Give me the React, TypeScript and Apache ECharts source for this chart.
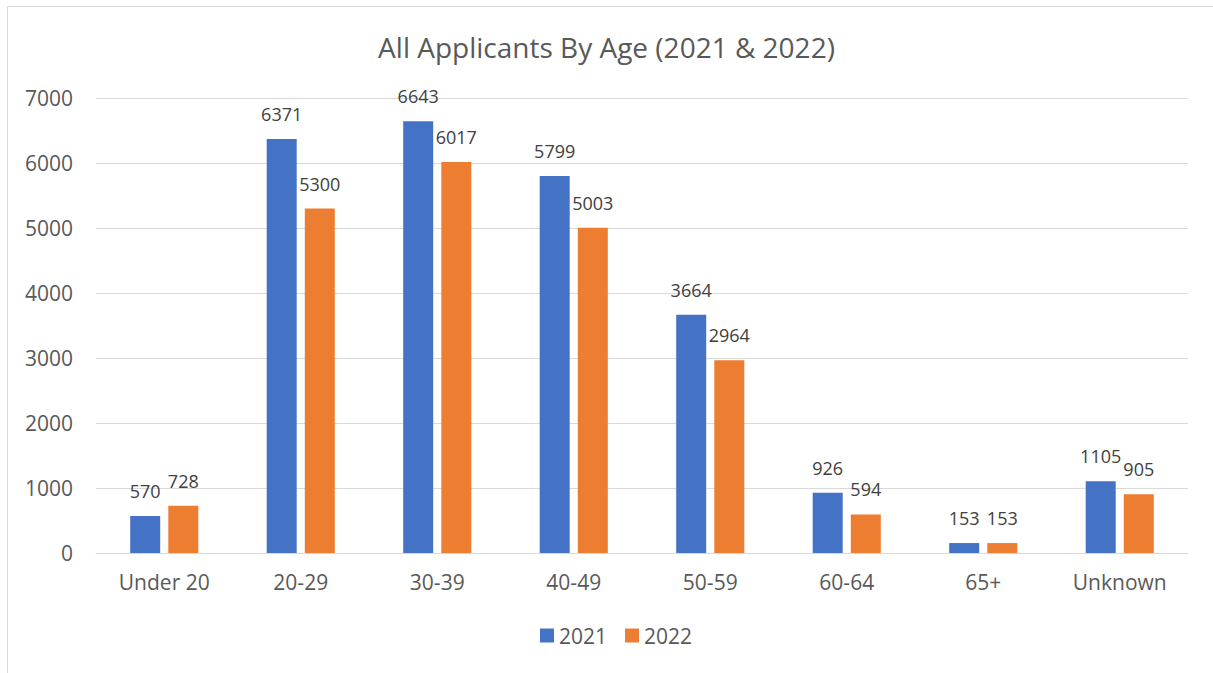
import React, { useEffect, useRef } from "react";
import * as echarts from "echarts";

const categories = ["Under 20", "20-29", "30-39", "40-49", "50-59", "60-64", "65+", "Unknown"];
const values2021 = [570, 6371, 6643, 5799, 3664, 926, 153, 1105];
const values2022 = [728, 5300, 6017, 5003, 2964, 594, 153, 905];
const seriesNames = ["2021", "2022"];
const titleText = "All Applicants By Age (2021 & 2022)";

const FONT = "'Open Sans', 'Liberation Sans', sans-serif";

export default function App() {
  const ref = useRef<HTMLDivElement>(null);
  useEffect(() => {
    document.body.style.margin = "0";
    const chart = echarts.init(ref.current!, null, { renderer: "svg" });
    chart.setOption({
      animation: false,
      backgroundColor: "#ffffff",
      textStyle: { fontFamily: FONT },
      title: {
        text: titleText,
        left: "center",
        top: 28,
        textStyle: { fontFamily: FONT, fontSize: 28, fontWeight: "normal", color: "#595959" },
      },
      legend: {
        data: seriesNames,
        bottom: 22,
        left: 535,
        itemWidth: 14,
        itemHeight: 14,
        itemGap: 18,
        icon: "rect",
        textStyle: { fontFamily: FONT, fontSize: 21, color: "#595959" },
      },
      grid: { left: 96, right: 25, top: 98, bottom: 120, containLabel: false },
      xAxis: {
        type: "category",
        data: categories,
        axisLine: { lineStyle: { color: "#d9d9d9" } },
        axisTick: { show: false },
        axisLabel: { fontFamily: FONT, fontSize: 21, color: "#595959", margin: 18 },
      },
      yAxis: {
        type: "value",
        min: 0,
        max: 7000,
        interval: 1000,
        axisLine: { show: false },
        axisTick: { show: false },
        splitLine: { lineStyle: { color: "#d9d9d9" } },
        axisLabel: {
          fontFamily: FONT,
          fontSize: 21,
          color: "#595959",
          margin: 23,
          formatter: (v: number) => String(v),
        },
      },
      graphic: [
        {
          type: "rect",
          shape: { x: 7.5, y: 6.5, width: 1230, height: 700 },
          style: { fill: "none", stroke: "#d9d9d9", lineWidth: 1 },
          silent: true,
        },
      ],
      series: [
        {
          name: seriesNames[0],
          type: "bar",
          data: values2021,
          barWidth: 30,
          barGap: "27%",
          itemStyle: { color: "#4472c4" },
          label: { show: true, position: "top", distance: 16, fontFamily: FONT, fontSize: 18, color: "#404040" },
        },
        {
          name: seriesNames[1],
          type: "bar",
          data: values2022,
          barWidth: 30,
          barGap: "27%",
          itemStyle: { color: "#ed7d31" },
          label: { show: true, position: "top", distance: 16, fontFamily: FONT, fontSize: 18, color: "#404040" },
        },
      ],
    });
    return () => chart.dispose();
  }, []);
  return <div ref={ref} style={{ width: 1213, height: 673 }} />;
}
